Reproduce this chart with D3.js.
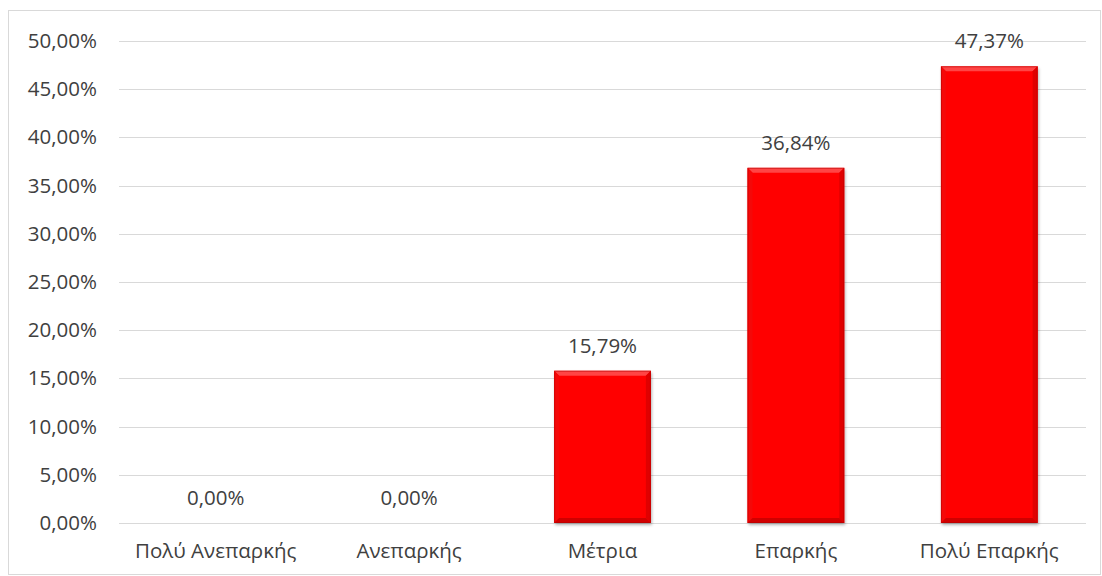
<!DOCTYPE html>
<html><head><meta charset="utf-8">
<script src="https://cdn.jsdelivr.net/npm/d3@7"></script>
<style>body{margin:0;background:#fff}svg{display:block}text{font-family:"Open Sans",sans-serif;fill:#404040}</style>
</head><body><svg id="c" width="1102" height="576"></svg>
<script>
const categories = ["Πολύ Ανεπαρκής","Ανεπαρκής","Μέτρια","Επαρκής","Πολύ Επαρκής"];
const values = [0, 0, 15.79, 36.84, 47.37];
const yTicks = [0,5,10,15,20,25,30,35,40,45,50];

const svg = d3.select("#c");
const fmt = v => v.toFixed(2).replace(".", ",") + "%";
const FS = 20.5;
const x = d3.scaleBand().domain(categories).range([119, 1086]).paddingInner(0.5).paddingOuter(0.25);
const y = d3.scaleLinear().domain([0, 50]).range([523, 41]);

svg.append("rect").attr("x",8.5).attr("y",10.5).attr("width",1092).attr("height",564)
  .attr("fill","#fff").attr("stroke","#d9d9d9");

const defs = svg.append("defs");
const f = defs.append("filter").attr("id","sh").attr("x","-20%").attr("y","-20%").attr("width","140%").attr("height","140%");
f.append("feDropShadow").attr("dx",1).attr("dy",2).attr("stdDeviation",1.5).attr("flood-color","#000").attr("flood-opacity",0.3);

// gridlines
svg.append("g").selectAll("line").data(yTicks).join("line")
  .attr("x1",119).attr("x2",1086).attr("y1",d=>Math.round(y(d))+0.5).attr("y2",d=>Math.round(y(d))+0.5)
  .attr("stroke","#d9d9d9").attr("stroke-width",1);

// y labels
const yAxis = d3.axisLeft(y).tickValues(yTicks).tickFormat(fmt).tickSize(0).tickPadding(0);
const ga = svg.append("g").attr("transform","translate(97,0)").call(yAxis);
ga.select(".domain").remove();
ga.selectAll("text").attr("font-size",FS).attr("fill","#404040").attr("font-family","Open Sans");

// x labels
const xAxis = d3.axisBottom(x).tickSize(0).tickPadding(0);
const gx = svg.append("g").attr("transform","translate(0,542)").call(xAxis);
gx.select(".domain").remove();
gx.selectAll("text").attr("font-size",FS).attr("fill","#404040").attr("font-family","Open Sans").attr("dy","0.8em");

// bars
const bars = svg.append("g").selectAll("g").data(values.map((v,i)=>({c:categories[i],v}))).join("g");
bars.filter(d=>d.v>0).each(function(d){
  const g = d3.select(this);
  const x0 = x(d.c), w = x.bandwidth(), y0 = y(d.v), h = y(0)-y(d.v), b = 5;
  g.append("rect").attr("x",x0).attr("y",y0).attr("width",w).attr("height",h).attr("fill","#ff0000").attr("filter","url(#sh)");
  g.append("path").attr("d",`M${x0},${y0}L${x0+w},${y0}L${x0+w-b},${y0+b}L${x0+b},${y0+b}Z`).attr("fill","#ff4545");
  g.append("path").attr("d",`M${x0},${y0}L${x0+b},${y0+b}L${x0+b},${y0+h-b}L${x0},${y0+h}Z`).attr("fill","#f50808");
  g.append("path").attr("d",`M${x0+w},${y0}L${x0+w-b},${y0+b}L${x0+w-b},${y0+h-b}L${x0+w},${y0+h}Z`).attr("fill","#e00000");
  g.append("path").attr("d",`M${x0},${y0+h}L${x0+b},${y0+h-b}L${x0+w-b},${y0+h-b}L${x0+w},${y0+h}Z`).attr("fill","#d00000");
  g.append("rect").attr("x",x0+0.5).attr("y",y0+0.5).attr("width",w-1).attr("height",h-1).attr("fill","none").attr("stroke","#b00000").attr("stroke-width",1).attr("opacity",0.5);
});
bars.append("text").attr("x",d=>x(d.c)+x.bandwidth()/2).attr("y",d=>y(d.v)-18)
  .attr("text-anchor","middle").attr("font-size",FS).text(d=>fmt(d.v));
</script></body></html>
